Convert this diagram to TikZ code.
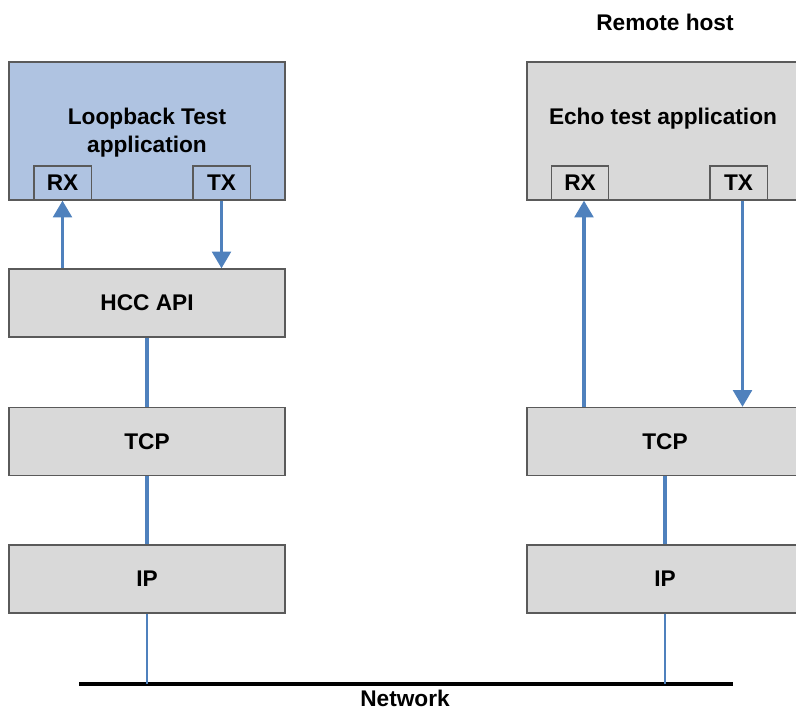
\documentclass[tikz,border=0pt]{standalone}
\usepackage{fontspec}
\setmainfont{Liberation Sans}
\usetikzlibrary{arrows.meta}
\definecolor{boxgray}{RGB}{217,217,217}
\definecolor{appblue}{RGB}{175,195,225}
\definecolor{linkblue}{RGB}{79,129,189}
\definecolor{edgegray}{RGB}{90,90,90}

\begin{document}
\begin{tikzpicture}[x=0.75pt,y=-0.75pt,
  box/.style={draw=edgegray,line width=1pt,fill=boxgray,minimum width=207pt,minimum height=51pt,inner sep=0pt,font=\fontsize{17}{20}\selectfont\bfseries},
  port/.style={box,minimum width=43pt,minimum height=25.5pt},
  lbl/.style={font=\fontsize{17}{21}\selectfont\bfseries,align=center,inner sep=1pt},
  link/.style={linkblue,line width=2.4pt},
  flow/.style={link,-{Triangle[width=14pt,length=12.5pt]}}]
\useasboundingbox (0,0) rectangle (796,709);
\clip (0,0) rectangle (796,709);
\node[box,fill=appblue,minimum height=103.5pt] (loop) at (147,131) {};
\node[lbl] (looptxt) at (147,133) {Loopback Test\\application};
\node[port,fill=appblue] (rxL) at (62.5,183) {RX};
\node[port,fill=appblue] (txL) at (221.5,183) {TX};
\node[box] (hcc) at (147,303) {HCC API};
\node[box] (tcpL) at (147,441.5) {TCP};
\node[box] (ipL) at (147,579) {IP};
\node[lbl] (remote) at (665,22) {Remote host};
\node[box,minimum height=103.5pt] (echo) at (665,131) {};
\node[lbl] (echotxt) at (663,119) {Echo test application};
\node[port] (rxR) at (580,183) {RX};
\node[port] (txR) at (738.5,183) {TX};
\node[box] (tcpR) at (665,441.5) {TCP};
\node[box] (ipR) at (665,579) {IP};
\coordinate (netW) at (79,684);
\coordinate (netE) at (733,684);
\draw[line width=3pt] (netW) -- (netE);
\node[lbl] (net) at (405,698) {Network};
\draw[flow] (rxL.south |- hcc.north) -- (rxL.south);
\draw[flow] (txL.south) -- (txL.south |- hcc.north);
\draw[link] (hcc) -- (tcpL);
\draw[link] (tcpL) -- (ipL);
\draw[link,line width=1.6pt] (ipL) -- (ipL |- netW);
\draw[flow] ([xshift=3pt]rxR.south |- tcpR.north) -- ([xshift=3pt]rxR.south);
\draw[flow] ([xshift=3pt]txR.south) -- ([xshift=3pt]txR.south |- tcpR.north);
\draw[link] (tcpR) -- (ipR);
\draw[link,line width=1.6pt] (ipR) -- (ipR |- netW);
\end{tikzpicture}
\end{document}
